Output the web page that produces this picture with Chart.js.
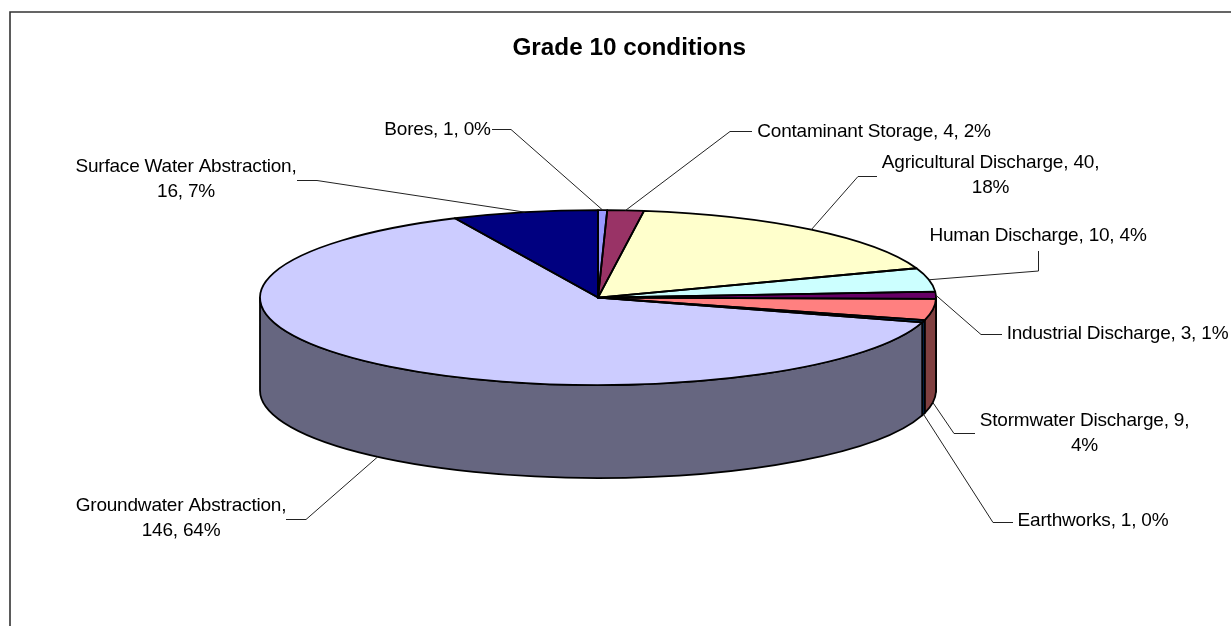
<!DOCTYPE html>
<html>
<head>
<meta charset="utf-8">
<title>Grade 10 conditions</title>
<script src="https://cdn.jsdelivr.net/npm/chart.js@4/dist/chart.umd.min.js"></script>
<style>
  html, body { margin: 0; padding: 0; background: #fff; overflow: hidden; }
  canvas { display: block; }
</style>
</head>
<body>
<canvas id="chartGrade10" width="1231" height="626"></canvas>
<script>
// Datos
const categories = ['Bores', 'Contaminant Storage', 'Agricultural Discharge', 'Human Discharge',
  'Industrial Discharge', 'Stormwater Discharge', 'Earthworks', 'Groundwater Abstraction', 'Surface Water Abstraction'];
const values = [1, 4, 40, 10, 3, 9, 1, 146, 16];
const percents = [0, 2, 18, 4, 1, 4, 0, 64, 7];

// Colores de cara superior y pared lateral
const topColors = ['#9999FF', '#993366', '#FFFFCC', '#CCFFFF', '#660066', '#FF8080', '#0066CC', '#CCCCFF', '#000080'];
const wallColors = ['#4D4D80', '#4D1A33', '#808066', '#668080', '#330033', '#804040', '#003366', '#666680', '#000040'];

// Cuántas partes de la etiqueta pasan a la segunda línea
const labelWrap = [0, 0, 1, 0, 0, 1, 0, 2, 2];
// Centro de cada etiqueta y primera línea base
const labelPos = [[437.5, 134.5], [874, 137], [990.5, 168], [1038, 241], [1117.5, 339], [1084.5, 426], [1093, 526], [181, 511], [186, 172]];
// Tramo de la línea guía del lado de la etiqueta
const leaderPoints = [
  [[492, 129.5], [511, 129.5]],
  [[752, 131.5], [730, 131.5]],
  [[877, 176.5], [858, 176.5]],
  [[1038.5, 251], [1038.5, 271]],
  [[1002, 334.5], [981, 334.5]],
  [[975, 433.5], [954, 433.5]],
  [[1013, 522.5], [993, 522.5]],
  [[286, 519.5], [306, 519.5]],
  [[297, 180.5], [317, 180.5]]
];

const SQUASH = 0.259;  // achatamiento de la elipse
const DEPTH = 93;      // altura de la pared
const OUTLINE = 1.8;
const FONT = '"Liberation Sans", Arial, sans-serif';

function pieArcs(chart) {
  return chart.getDatasetMeta(0).data;
}

// Pared frontal del cilindro y escala vertical de la tarta
const pie3dPlugin = {
  id: 'pie3d',
  beforeDatasetsDraw(chart) {
    const ctx = chart.ctx;
    pieArcs(chart).forEach((arc, i) => {
      const a0 = Math.max(arc.startAngle, 0);
      const a1 = Math.min(arc.endAngle, Math.PI);
      if (a1 <= a0) return;
      const ry = arc.outerRadius * SQUASH;
      ctx.beginPath();
      ctx.ellipse(arc.x, arc.y, arc.outerRadius, ry, 0, a0, a1);
      ctx.ellipse(arc.x, arc.y + DEPTH, arc.outerRadius, ry, 0, a1, a0, true);
      ctx.closePath();
      ctx.fillStyle = wallColors[i];
      ctx.fill();
      ctx.strokeStyle = '#000';
      ctx.lineWidth = OUTLINE;
      ctx.lineJoin = 'round';
      ctx.stroke();
    });
    const first = pieArcs(chart)[0];
    ctx.save();
    ctx.translate(first.x, first.y);
    ctx.scale(1, SQUASH);
    ctx.translate(-first.x, -first.y);
  },
  afterDatasetsDraw(chart) {
    const ctx = chart.ctx;
    ctx.restore();
    // Contornos sin la escala para que el grosor sea uniforme
    pieArcs(chart).forEach(arc => {
      ctx.beginPath();
      ctx.moveTo(arc.x, arc.y);
      ctx.ellipse(arc.x, arc.y, arc.outerRadius, arc.outerRadius * SQUASH, 0, arc.startAngle, arc.endAngle);
      ctx.closePath();
      ctx.strokeStyle = '#000';
      ctx.lineWidth = OUTLINE;
      ctx.lineJoin = 'round';
      ctx.stroke();
    });
  }
};

// Etiquetas con líneas guía
const sliceLabelsPlugin = {
  id: 'sliceLabels',
  afterDraw(chart) {
    const ctx = chart.ctx;
    ctx.save();
    pieArcs(chart).forEach((arc, i) => {
      const mid = (arc.startAngle + arc.endAngle) / 2;
      const front = Math.sin(mid) > 0.1;
      const ax = arc.x + arc.outerRadius * Math.cos(mid);
      const ay = arc.y + arc.outerRadius * SQUASH * Math.sin(mid) + (front ? DEPTH : 0);

      ctx.beginPath();
      leaderPoints[i].forEach((p, n) => (n === 0 ? ctx.moveTo(p[0], p[1]) : ctx.lineTo(p[0], p[1])));
      ctx.lineTo(ax, ay);
      ctx.strokeStyle = '#222';
      ctx.lineWidth = 1;
      ctx.stroke();

      const parts = [categories[i], String(values[i]), percents[i] + '%'];
      const cut = parts.length - labelWrap[i];
      const lines = [parts.slice(0, cut).join(', ') + (labelWrap[i] ? ',' : '')];
      if (labelWrap[i]) lines.push(parts.slice(cut).join(', '));

      ctx.font = '19px ' + FONT;
      ctx.letterSpacing = '-0.2px';
      ctx.fillStyle = '#000';
      ctx.textAlign = 'center';
      ctx.textBaseline = 'alphabetic';
      lines.forEach((line, n) => ctx.fillText(line, labelPos[i][0], labelPos[i][1] + n * 24.5));
    });
    ctx.restore();
  }
};

// Marco del área de la gráfica (sólo se ven arriba y a la izquierda)
const framePlugin = {
  id: 'frame',
  beforeDraw(chart) {
    const ctx = chart.ctx;
    ctx.save();
    ctx.fillStyle = '#fff';
    ctx.fillRect(0, 0, chart.width, chart.height);
    ctx.beginPath();
    ctx.moveTo(10, chart.height);
    ctx.lineTo(10, 12);
    ctx.lineTo(chart.width, 12);
    ctx.strokeStyle = '#333';
    ctx.lineWidth = 1.6;
    ctx.stroke();
    ctx.restore();
  }
};

new Chart(document.getElementById('chartGrade10').getContext('2d'), {
  type: 'pie',
  data: {
    labels: categories,
    datasets: [{
      data: values,
      backgroundColor: topColors,
      borderWidth: 0,
      radius: 338,
      clip: false
    }]
  },
  options: {
    responsive: false,
    animation: false,
    events: [],
    // El relleno deja el centro de la tarta en x=598 y el título termina en x=746
    layout: { padding: { left: 450, right: 485, top: 0, bottom: 94 } },
    plugins: {
      legend: { display: false },
      tooltip: { enabled: false },
      title: {
        display: true,
        text: 'Grade 10 conditions',
        align: 'end',
        color: '#000',
        font: { family: FONT, size: 24.3, weight: 'bold', lineHeight: 1.2 },
        padding: { top: 34, bottom: 0 }
      }
    }
  },
  plugins: [framePlugin, pie3dPlugin, sliceLabelsPlugin]
});
</script>
</body>
</html>
